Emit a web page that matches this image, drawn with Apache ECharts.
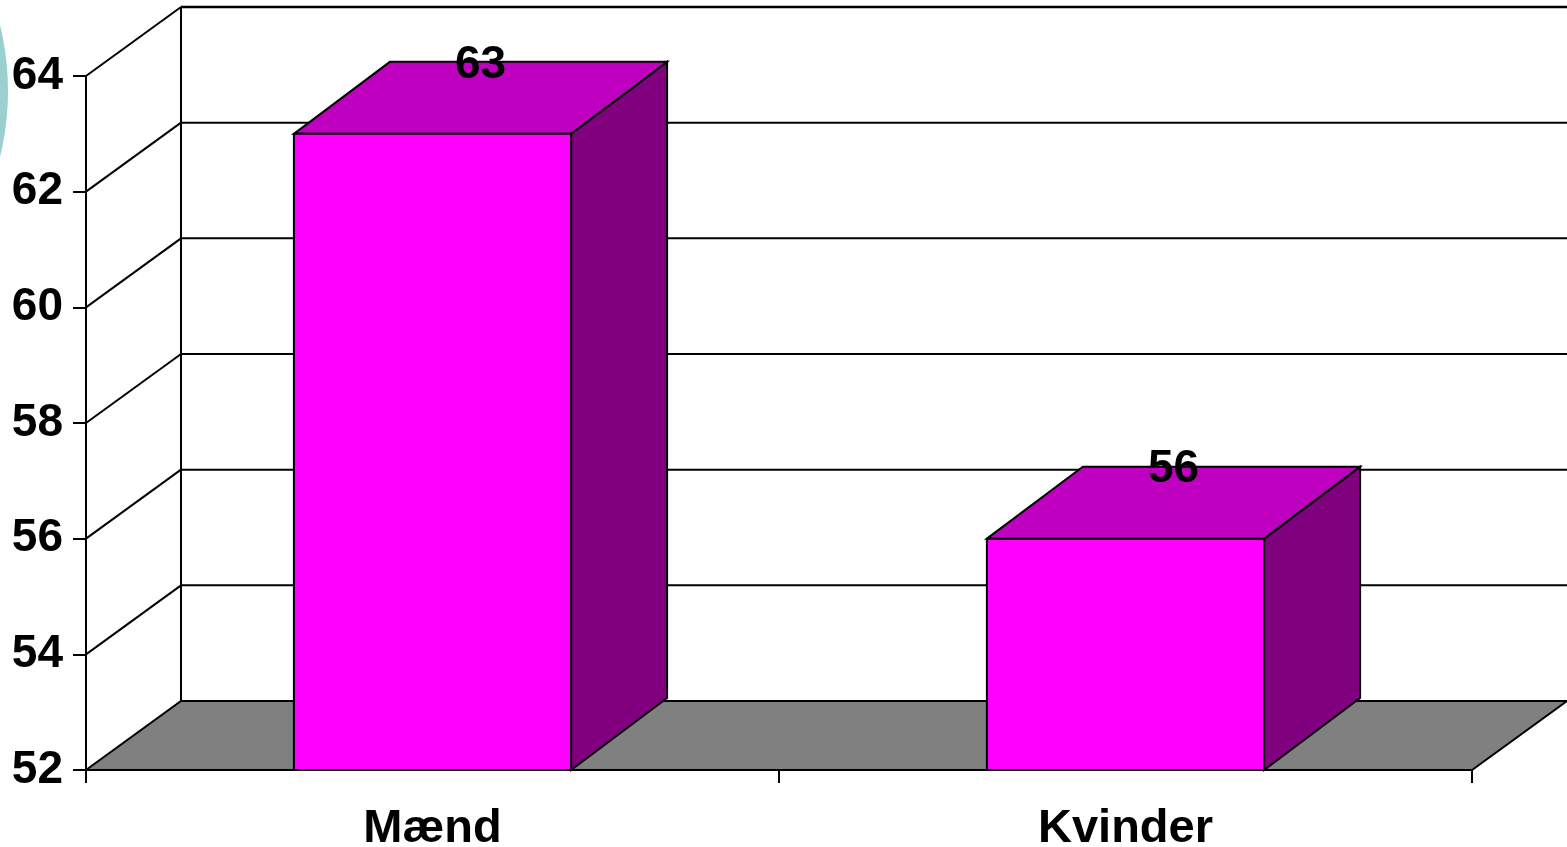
<!DOCTYPE html>
<html>
<head>
<meta charset="utf-8">
<script src="https://cdn.jsdelivr.net/npm/echarts@6/dist/echarts.min.js"></script>
<style>
  html, body { margin: 0; padding: 0; background: #ffffff; }
  #chart { width: 1567px; height: 847px; }
</style>
</head>
<body>
<div id="chart"></div>
<script>
// ---- data ----
const categories = ['Mænd', 'Kvinder'];
const values = [63, 56];
const yTicks = [52, 54, 56, 58, 60, 62, 64];
const yMin = 52;
const yMax = 64;
const yStep = 2;

// ---- style constants ----
const FONT = "'Liberation Sans', Arial, sans-serif";
const WALL_DX = 95, WALL_DY = -69;   // depth offset of back wall / floor
const BAR_DX = 96, BAR_DY = -72;     // depth offset of bar boxes
const LINE_W = 2;
const LABEL_NUDGE = 3;

const chart = echarts.init(document.getElementById('chart'), null, { renderer: 'canvas' });

function renderWall(params, api) {
  const cs = params.coordSys;
  const v = api.value(1);
  const y = api.coord([0, v])[1];
  const xL = cs.x, xR = cs.x + cs.width;
  const children = [];
  if (v === yMin) {
    children.push({
      type: 'polygon',
      shape: { points: [[xL, y], [xR, y], [xR + WALL_DX, y + WALL_DY], [xL + WALL_DX, y + WALL_DY]] },
      style: { fill: '#808080', stroke: '#000', lineWidth: LINE_W, lineJoin: 'miter' }
    });
    const yTop = api.coord([0, yMax])[1];
    children.push({
      type: 'line',
      shape: { x1: xL + WALL_DX, y1: y + WALL_DY, x2: xL + WALL_DX, y2: yTop + WALL_DY },
      style: { stroke: '#000', lineWidth: LINE_W }
    });
  } else {
    children.push({
      type: 'line',
      shape: { x1: xL, y1: y, x2: xL + WALL_DX, y2: y + WALL_DY },
      style: { stroke: '#000', lineWidth: LINE_W }
    });
    children.push({
      type: 'line',
      shape: { x1: xL + WALL_DX, y1: y + WALL_DY, x2: xR + WALL_DX + 20, y2: y + WALL_DY },
      style: { stroke: '#000', lineWidth: v === yMax ? 2.6 : LINE_W }
    });
  }
  return { type: 'group', children: children };
}

function renderBar(params, api) {
  const idx = api.value(0);
  const v = api.value(1);
  const top = api.coord([idx, v]);
  const base = api.coord([idx, yMin]);
  const bandW = api.size([1, 0])[0];
  const w = bandW * 0.4;
  const x0 = top[0] - w / 2, x1 = top[0] + w / 2;
  const yT = top[1], yB = base[1];
  const edge = { stroke: '#000', lineWidth: LINE_W, lineJoin: 'miter' };
  return {
    type: 'group',
    children: [
      {
        type: 'polygon',
        shape: { points: [[x1, yT], [x1 + BAR_DX, yT + BAR_DY], [x1 + BAR_DX, yB + BAR_DY], [x1, yB]] },
        style: Object.assign({ fill: '#800080' }, edge)
      },
      {
        type: 'polygon',
        shape: { points: [[x0, yT], [x0 + BAR_DX, yT + BAR_DY], [x1 + BAR_DX, yT + BAR_DY], [x1, yT]] },
        style: Object.assign({ fill: '#C000C0' }, edge)
      },
      {
        type: 'rect',
        shape: { x: x0, y: yT, width: w, height: yB - yT },
        style: Object.assign({ fill: '#FF00FF' }, edge)
      },
      {
        type: 'text',
        x: top[0] + BAR_DX / 2,
        y: yT + BAR_DY + LABEL_NUDGE,
        style: {
          text: String(v),
          fill: '#000',
          font: 'bold 46px ' + FONT,
          align: 'center',
          verticalAlign: 'middle'
        }
      }
    ]
  };
}

const option = {
  backgroundColor: '#ffffff',
  animation: false,
  graphic: [{
    type: 'circle',
    shape: { cx: -268, cy: 91, r: 276 },
    style: { fill: '#9ccfcf' },
    z: -10
  }],
  grid: { left: 86, right: 95, top: 76, bottom: 77, outerBoundsMode: 'none' },
  xAxis: {
    type: 'category',
    data: categories,
    boundaryGap: true,
    axisLine: { show: true, lineStyle: { color: '#000', width: 2 } },
    axisTick: { show: true, length: 13, lineStyle: { color: '#000', width: 2 } },
    axisLabel: { margin: 36, color: '#000', fontSize: 47, fontWeight: 'bold', fontFamily: FONT },
    splitLine: { show: false },
    z: 5
  },
  yAxis: {
    type: 'value',
    min: yMin,
    max: yMax,
    interval: yStep,
    axisLine: { show: true, lineStyle: { color: '#000', width: 2 } },
    axisTick: { show: true, length: 13, lineStyle: { color: '#000', width: 2 } },
    axisLabel: { margin: 23, padding: [7, 0, 0, 0], color: '#000', fontSize: 46, fontWeight: 'bold', fontFamily: FONT },
    splitLine: { show: false },
    z: 5
  },
  series: [
    {
      type: 'custom',
      name: 'wall',
      renderItem: renderWall,
      data: yTicks.map(v => [0, v]),
      clip: false,
      silent: true,
      z: 1
    },
    {
      type: 'custom',
      name: 'bars',
      renderItem: renderBar,
      data: values.map((v, i) => [i, v]),
      clip: false,
      z: 3
    }
  ]
};
chart.setOption(option);
</script>
</body>
</html>
